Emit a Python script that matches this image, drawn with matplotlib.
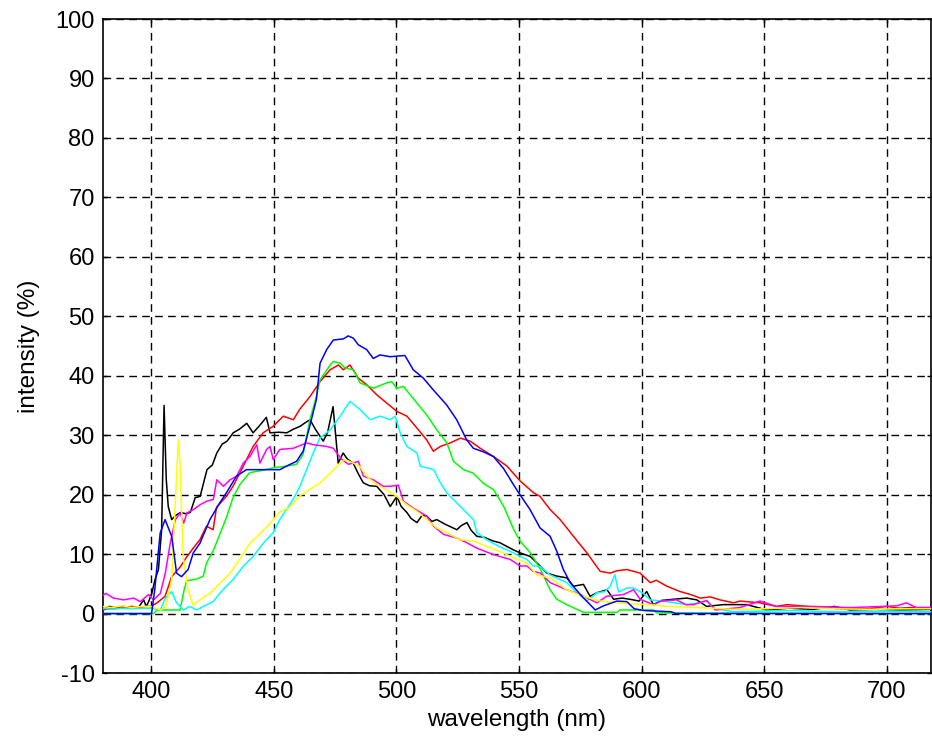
import numpy as np
import matplotlib
matplotlib.use("Agg")
import matplotlib.pyplot as plt

# spectra, (wavelength nm, intensity %)
black_pts = [(380, 0.6), (383, 1.2), (386, 0.9), (389, 1.2), (392, 1.0), (395, 1.1), (397, 2.3), (398, 1.2),
             (399, 2.0), (400.3, 3.4), (401.6, 5.7), (403, 7.4), (404.3, 14.1), (405.3, 35.0), (406.2, 22.5),
             (407, 18.0), (408.4, 15.8), (410, 16.5), (412, 17.0), (414, 16.8), (416, 17.0), (418, 19.5),
             (420, 19.7), (422.8, 24.2), (425, 25.0), (426.8, 27.0), (429, 28.5), (431, 29.0), (433.5, 30.4),
             (436, 31.0), (439, 32.0), (441.6, 30.4), (444, 31.5), (447, 33.0), (448.5, 30.4), (452, 30.5),
             (455.3, 30.4), (458, 31.0), (460.8, 31.5), (462.5, 32.0), (464.8, 32.6), (467, 31.0), (470.2, 29.0),
             (472, 30.5), (474.2, 34.8), (476.3, 25.3), (478.3, 27.0), (480, 26.0), (482.4, 25.3), (484.5, 23.5),
             (486.5, 22.0), (489, 21.5), (492, 21.4), (495, 20.0), (497.5, 18.0), (500.2, 19.7), (502, 18.0),
             (504.3, 17.0), (506, 16.0), (508.4, 15.3), (510.5, 16.5), (512.4, 16.4), (514.5, 15.5), (516.5, 15.8),
             (520, 15.0), (524.7, 14.1), (526.5, 14.8), (528.8, 15.3), (530.5, 14.0), (532.8, 13.0), (536, 12.8),
             (539.5, 12.2), (542.3, 11.9), (545, 11.3), (547.8, 10.7), (550.5, 10.2), (554.6, 9.6), (558.6, 8.0),
             (561.4, 6.8), (565.4, 6.3), (569.5, 6.0), (572.2, 4.6), (576.3, 4.9), (579, 2.9), (581.8, 3.5),
             (585.9, 4.0), (588.6, 2.4), (592, 2.6), (595.3, 2.4), (599, 2.1), (602.1, 3.7), (604.8, 1.5),
             (608, 2.2), (613, 2.4), (618.4, 2.6), (622.5, 2.3), (626.5, 1.2), (633.3, 1.5), (642.9, 1.5),
             (651, 0.6), (660, 0.9), (670, 0.7), (678.6, 1.2), (685, 0.6), (695, 0.7), (705, 0.6), (718, 0.7)]

red_pts = [(380, 0.6), (383, 0.8), (386, 1.1), (389, 1.0), (392, 1.2), (395, 1.0), (398, 1.2), (400, 1.2),
           (402.4, 1.8), (405.7, 2.9), (408.4, 6.2), (411.8, 7.8), (414.5, 9.5), (417.2, 11.0), (419.9, 12.4),
           (422.6, 14.7), (425.3, 14.1), (426.7, 17.9), (430.7, 19.7), (433.4, 21.4), (437.5, 24.7), (441.6, 28.1),
           (445.7, 30.4), (449.8, 31.5), (453.9, 33.2), (458, 32.6), (460.7, 34.4), (464.8, 36.5), (468.9, 39.0),
           (473, 41.0), (476.4, 41.8), (478.4, 41.0), (481.1, 41.8), (484.5, 39.6), (487.9, 38.5), (492, 36.8),
           (496.1, 35.4), (500.2, 34.0), (504.3, 33.2), (508.4, 31.2), (512.4, 29.2), (515.1, 27.3), (517.9, 28.1),
           (522, 28.7), (526.1, 29.5), (530.1, 29.0), (534.2, 27.8), (539.7, 26.4), (545.1, 24.8), (550.5, 22.3),
           (556, 20.3), (558.6, 19.7), (562.7, 17.5), (566.8, 15.8), (572.2, 13.0), (577.7, 10.2), (583.1, 7.1),
           (587.2, 6.8), (590, 7.2), (594, 7.4), (599.4, 6.8), (603.5, 5.2), (606, 5.6), (610.3, 4.6),
           (615.7, 3.7), (620, 3.2), (623.9, 2.6), (628, 2.8), (632, 2.3), (637.5, 1.8), (640.1, 2.1),
           (648.3, 1.8), (655, 1.2), (659.2, 1.5), (665, 1.3), (670, 1.1), (681, 0.8), (691.9, 0.8), (700, 1.2),
           (705, 0.9), (710, 1.0), (718, 1.0)]

blue_pts = [(380, 0.0), (400.2, 0.0), (401.5, 4.0), (403.7, 13.5), (405.7, 15.8), (408.4, 13.0), (410.4, 6.8),
            (412.4, 6.2), (415.1, 7.4), (417.2, 10.2), (419.9, 11.8), (424, 15.8), (428, 18.6), (430.7, 20.3),
            (434.8, 23.1), (438.9, 24.2), (452.5, 24.2), (455.2, 24.8), (459.3, 25.6), (462, 27.3), (464.7, 31.5),
            (467.4, 36.0), (468.9, 42.1), (471.6, 44.4), (474.3, 46.0), (478.4, 46.2), (480.4, 46.7), (482.5, 46.3),
            (484.5, 45.2), (487.9, 44.4), (490.6, 42.9), (493.3, 43.5), (497.4, 43.2), (503.5, 43.4), (506.9, 41.0),
            (511, 39.6), (515.1, 37.6), (520.5, 35.1), (524.6, 32.6), (528.7, 29.2), (531.4, 27.8), (535.5, 27.2),
            (539.6, 26.4), (543.7, 24.4), (549.1, 20.8), (554.5, 17.5), (558.6, 14.4), (562.7, 13.0), (565.4, 10.5),
            (568.1, 7.4), (570.9, 5.2), (575, 3.2), (579, 1.5), (581.1, 0.6), (584.5, 1.3), (589.9, 2.1),
            (594, 2.0), (597, 0.8), (601.2, 0.5), (612, 0.3), (614, 0.0), (718, 0.0)]

green_pts = [(380, 0.0), (401, 0.0), (402.4, 0.6), (411.8, 0.6), (413.5, 4.0), (414.5, 5.5), (418.6, 5.8),
             (421.3, 6.3), (422.6, 8.5), (425.3, 10.5), (428, 13.3), (430.7, 16.1), (433.4, 19.5), (436.2, 21.7),
             (440.2, 23.7), (444.3, 24.0), (449.8, 24.5), (455.2, 24.8), (459.3, 25.1), (462, 26.8), (464.7, 32.5),
             (467.4, 36.5), (468.9, 39.3), (473, 41.8), (474.3, 42.4), (477.1, 42.1), (479.1, 41.3), (482.5, 41.0),
             (485.2, 38.8), (490.6, 37.9), (496.1, 38.8), (498.1, 39.0), (500.2, 37.9), (502.9, 38.2), (508.4, 35.4),
             (512.4, 33.4), (516.5, 30.9), (520.6, 28.7), (523.3, 25.6), (527.4, 24.2), (531.4, 23.6), (535.5, 21.9),
             (539.7, 20.8), (543.8, 18.0), (547.9, 14.1), (550.6, 12.1), (554.7, 10.2), (558.8, 7.4), (562.7, 4.0),
             (565.4, 2.4), (569.5, 1.5), (576.3, 0.2), (589.9, 0.2), (591.2, 0.6), (604.8, 0.6), (606.2, 0.1),
             (718, 0.0)]

cyan_pts = [(380, 0.9), (384, 0.7), (388, 0.9), (392, 0.8), (396, 0.9), (400, 0.9), (403.8, 0.6), (405.7, 2.5),
            (408.4, 3.7), (410.4, 1.8), (413.1, 0.6), (415.8, 1.2), (418.6, 0.6), (421.3, 1.2), (425.3, 2.0),
            (428, 3.4), (430.7, 4.6), (433.4, 5.7), (437.5, 7.9), (441.6, 9.6), (445.7, 11.8), (449.8, 13.6),
            (452.5, 15.8), (455.2, 17.5), (457.9, 19.2), (460.7, 21.4), (463.4, 24.2), (466.1, 27.0), (468.8, 29.5),
            (473, 30.9), (477.1, 33.2), (481.1, 35.7), (485.2, 34.3), (489.3, 32.6), (493.4, 33.2), (497.5, 32.6),
            (499.5, 33.2), (501.6, 30.4), (504.3, 28.1), (508.4, 27.0), (509.8, 24.8), (515.2, 24.2), (517.9, 22.0),
            (520.6, 20.3), (524.7, 18.6), (528.8, 16.9), (531.5, 15.8), (532.8, 13.6), (536.9, 12.4), (542.3, 11.2),
            (547.8, 10.2), (550.5, 9.6), (553.2, 9.1), (555.8, 8.0), (558.7, 7.9), (562.7, 6.5), (569.5, 5.2),
            (573.6, 3.5), (577.7, 2.1), (581.8, 3.5), (585, 3.7), (587.2, 4.6), (589.1, 6.5), (590.6, 3.6),
            (594, 4.3), (596.6, 4.3), (600.7, 3.4), (603.5, 2.3), (610.3, 2.0), (618.5, 1.5), (623.8, 1.8),
            (626.6, 2.1), (629.3, 0.9), (632, 0.7), (637.5, 0.3), (660, 0.5), (680, 0.3), (700, 0.4), (718, 0.3)]

yellow_pts = [(380, 1.2), (384, 1.0), (388, 1.3), (392, 1.0), (396, 1.2), (400, 1.2), (403.8, 0.6), (406, 1.2),
              (408.4, 5.7), (409.7, 17.0), (411.1, 29.2), (411.8, 25.4), (413.1, 9.5), (415.1, 3.9), (417.2, 1.4),
              (419.9, 2.3), (424, 3.4), (428, 5.1), (432.1, 6.7), (436.2, 9.2), (440.3, 11.8), (444.3, 13.4),
              (448.4, 15.1), (452.5, 17.1), (456.6, 17.9), (460.7, 19.8), (464.8, 20.9), (468.9, 22.0), (473, 23.6),
              (477.1, 25.3), (479.1, 25.9), (482.5, 25.3), (485.2, 24.7), (487.9, 23.1), (492, 21.7), (496.1, 20.8),
              (500.2, 19.7), (504.3, 18.3), (508.4, 17.2), (512.4, 15.8), (516.5, 14.4), (520.6, 13.6), (526.1, 12.4),
              (531.5, 12.2), (536.9, 11.3), (542.3, 10.4), (547.8, 9.4), (553.2, 8.5), (557.3, 6.5), (562.7, 6.0),
              (569.5, 4.0), (576.3, 2.9), (583.1, 2.1), (589.9, 1.8), (596.7, 1.6), (603.5, 1.5), (610.3, 1.2),
              (624, 1.0), (637.5, 0.7), (650, 0.8), (665, 1.0), (680, 0.8), (695, 0.7), (705, 0.8), (718, 0.8)]

magenta_pts = [(380, 2.9), (381.5, 3.4), (384.7, 2.6), (388.8, 2.3), (392.9, 2.6), (395.6, 2.0), (399, 3.2),
               (401, 2.3), (403.8, 3.4), (405.8, 6.8), (407.8, 11.8), (409.9, 15.8), (411.9, 16.9), (413.3, 15.2),
               (414.6, 16.9), (417.3, 17.5), (420, 18.3), (422.7, 18.9), (425.4, 19.2), (426.8, 22.5), (429.5, 21.4),
               (432.2, 22.5), (434.9, 23.1), (437.6, 25.3), (440.3, 26.4), (443.1, 28.4), (444.4, 25.3), (447.1, 27.6),
               (448.5, 28.1), (449.8, 25.9), (452.5, 27.6), (458, 27.8), (463.4, 28.7), (466.1, 28.4), (471.6, 28.1),
               (474.3, 27.8), (475.7, 27.0), (477.8, 25.9), (480.5, 25.1), (484.5, 25.6), (486.6, 23.1), (490.6, 22.5),
               (494.7, 21.4), (497.4, 21.4), (500.8, 21.6), (502.9, 18.9), (507, 17.7), (512.4, 16.4), (515.2, 14.7),
               (519.3, 13.3), (524.7, 12.7), (528.8, 11.9), (532.8, 11.0), (539.7, 9.9), (546.4, 9.1), (550.5, 8.0),
               (553.2, 8.0), (555.8, 7.1), (558.7, 6.8), (562.7, 5.2), (569.5, 4.0), (575, 3.2), (581.8, 1.8),
               (585.7, 2.9), (592.6, 3.2), (595.2, 3.7), (596.7, 4.0), (599.4, 2.4), (604.8, 1.5), (608, 2.1),
               (614.3, 2.3), (618, 1.5), (621.1, 1.5), (626.6, 2.2), (630, 0.6), (640, 1.0), (648.3, 2.1),
               (655, 1.2), (670, 1.2), (685, 1.0), (698.5, 1.2), (704, 1.3), (708, 1.8), (712, 1.0), (718, 1.0)]

series = [(black_pts, '#000000'), (red_pts, '#ff0000'), (green_pts, '#00ff00'), (cyan_pts, '#00ffff'),
          (magenta_pts, '#ff00ff'), (yellow_pts, '#ffff00'), (blue_pts, '#0000ff')]

x_ticks = [400, 450, 500, 550, 600, 650, 700]
y_ticks = [-10, 0, 10, 20, 30, 40, 50, 60, 70, 80, 90, 100]

plt.rcParams['font.family'] = ['Liberation Sans', 'DejaVu Sans']
plt.rcParams['lines.scale_dashes'] = False
plt.rcParams['axes.unicode_minus'] = False

fig = plt.figure(figsize=(9.32, 7.46), dpi=100)
ax = fig.add_axes([103 / 932, 73 / 746, 828 / 932, 654 / 746])

for pts, col in series:
    arr = np.array(pts)
    ax.plot(arr[:, 0], arr[:, 1], color=col, lw=1.1, zorder=3)

ax.set_xlim(380.4, 718.0)
ax.set_ylim(-10, 100)
ax.set_xticks(x_ticks)
ax.set_yticks(y_ticks)
ax.grid(True, color='black', linestyle=(0, (5.5, 3.8)), linewidth=1.0)
ax.tick_params(direction='in', length=3, width=1, top=True, right=True,
               labelsize=17, pad=6)
for s in ax.spines.values():
    s.set_linewidth(1.2)

ax.set_xlabel('wavelength (nm)', fontsize=17.5, labelpad=4)
ax.set_ylabel('intensity (%)', fontsize=17.5, labelpad=11)

fig.savefig('out.png', dpi=100)
